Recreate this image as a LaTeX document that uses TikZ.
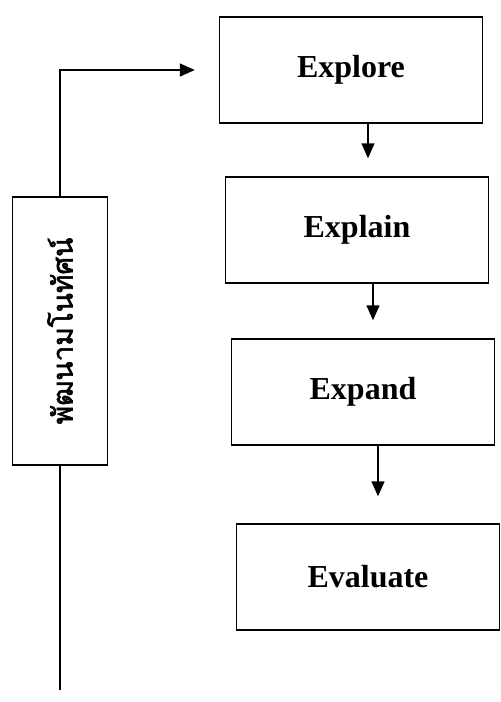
\documentclass[tikz,border=0pt]{standalone}
\usepackage{fontspec}
\setmainfont{Liberation Serif}
\newfontfamily\thaifont[Script=Thai, AutoFakeBold=2]{Loma}
\usetikzlibrary{positioning,arrows.meta}

\begin{document}
\begin{tikzpicture}[x=1pt, y=-1pt,
    stage/.style={draw, line width=1.5pt, minimum width=263pt, minimum height=106pt,
      font=\fontsize{32}{34}\selectfont\bfseries},
    flow/.style={line width=1.5pt, -{Triangle[length=15pt, width=13pt]}}]
    \useasboundingbox (0,0) rectangle (501,702);
    % the five stages
    \node [stage] (explore) at (351,70) {Explore};
    \node [stage] (explain) at (357,230) {Explain};
    \node [stage] (expand) at (363,392) {Expand};
    \node [stage] (evaluate) at (368,577) {Evaluate};
    % side box, text turned up the page
    \node [draw, line width=1.5pt, minimum width=95pt, minimum height=268pt] (concept) at (60,331)
      {\rotatebox{90}{\fontsize{28}{30}\selectfont\thaifont\bfseries พัฒนามโนทัศน์}};
    \coordinate (tail) at (60,690);
    \draw [flow, shorten >=24pt] (concept.north) |- (explore.west);
    \draw [line width=1.5pt] (concept.south) -- (tail);
    \draw [flow, shorten >=18pt] ([xshift=17pt]explore.south) -- ([xshift=17pt]explore.south |- explain.north);
    \draw [flow, shorten >=18pt] ([xshift=16pt]explain.south) -- ([xshift=16pt]explain.south |- expand.north);
    \draw [flow, shorten >=27pt] ([xshift=15pt]expand.south) -- ([xshift=15pt]expand.south |- evaluate.north);
\end{tikzpicture}
\end{document}
